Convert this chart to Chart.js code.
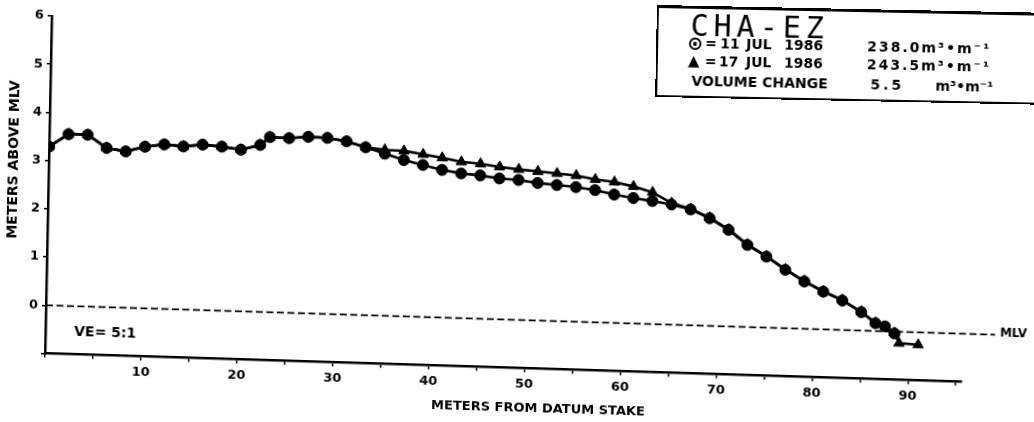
<!DOCTYPE html>
<html>
<head>
<meta charset="utf-8">
<title>CHA-EZ beach profile</title>
<script src="https://cdn.jsdelivr.net/npm/chart.js@4.4.1/dist/chart.umd.min.js"></script>
<style>
  html, body { margin: 0; padding: 0; background: #fff; overflow: hidden; }
  #wrap { position: relative; width: 1034px; height: 422px; overflow: hidden; }
  /* the scanned sheet sits slightly askew */
  #profile { position: absolute; left: 0; top: 0; transform-origin: 45px 354px; transform: matrix(1, 0.031, -0.02, 1, 0, 0); }
  #key { position: absolute; left: 657px; top: 5px; width: 400px; height: 87px;
         border-top: 3px solid #000; border-left: 2px solid #000; border-bottom: 2px solid #000;
         transform-origin: 0 0; transform: rotate(1.15deg);
         font-family: "DejaVu Sans", sans-serif; font-weight: bold; font-size: 14px; color: #000; }
  #key span { position: absolute; white-space: nowrap; line-height: 1; }
  #key .big { font-family: "DejaVu Sans Mono", monospace; font-weight: normal; font-size: 30px; letter-spacing: 5px; }
  #key .sym { font-size: 15px; }
  #key .ring { font-size: 19px; font-weight: bold; }
  #key .val { letter-spacing: 2px; }
</style>
</head>
<body>
<div id="wrap">
  <canvas id="profile" width="1034" height="422"></canvas>
  <div id="key">
    <span class="big" style="left:32px; top:2px;">CHA-EZ</span>
    <span class="ring" style="left:29px; top:25px;">⊙</span>
    <span style="left:47px; top:27px;">=</span>
    <span style="left:62px; top:27px;">11</span>
    <span style="left:88px; top:27px;">JUL</span>
    <span style="left:126px; top:27px;">1986</span>
    <span class="val" style="left:209px; top:27px;">238.0m³•m⁻¹</span>
    <span class="sym" style="left:30px; top:45px;">▲</span>
    <span style="left:47px; top:45px;">=</span>
    <span style="left:61px; top:45px;">17</span>
    <span style="left:88px; top:45px;">JUL</span>
    <span style="left:126px; top:45px;">1986</span>
    <span class="val" style="left:209px; top:45px;">243.5m³•m⁻¹</span>
    <span style="left:34px; top:65px;">VOLUME CHANGE</span>
    <span style="left:213px; top:65px; letter-spacing:3px;">5.5</span>
    <span style="left:278px; top:65px;">m³•m⁻¹</span>
  </div>
</div>
<script>
// survey of 11 JUL 1986 (circles)
const julyElevenX = [0, 2, 4, 6, 8, 10, 12, 14, 16, 18, 20, 22, 23, 25, 27, 29, 31, 33, 35, 37, 39, 41, 43, 45, 47, 49,
                     51, 53, 55, 57, 59, 61, 63, 65, 67, 69, 71, 73, 75, 77, 79, 81, 83, 85, 86.5, 87.5, 88.5];
const julyElevenY = [3.29, 3.56, 3.56, 3.30, 3.24, 3.35, 3.41, 3.38, 3.43, 3.40, 3.35, 3.46, 3.63, 3.62, 3.66, 3.65,
                     3.59, 3.48, 3.36, 3.24, 3.15, 3.06, 3.00, 2.97, 2.92, 2.90, 2.85, 2.82, 2.79, 2.74, 2.66, 2.60,
                     2.55, 2.49, 2.40, 2.23, 2.00, 1.70, 1.47, 1.21, 0.98, 0.78, 0.61, 0.38, 0.16, 0.10, -0.04];

// survey of 17 JUL 1986 (triangles)
const julySeventeenX = [0, 2, 4, 6, 8, 10, 12, 14, 16, 18, 20, 22, 23, 25, 27, 29, 31, 33, 35, 37, 39, 41, 43, 45, 47, 49,
                        51, 53, 55, 57, 59, 61, 63, 65, 67, 69, 71, 73, 75, 77, 79, 81, 83, 85, 86.5, 88.5, 89, 91];
const julySeventeenY = [3.29, 3.56, 3.56, 3.30, 3.24, 3.35, 3.41, 3.38, 3.43, 3.40, 3.35, 3.46, 3.63, 3.62, 3.66, 3.65,
                        3.59, 3.48, 3.44, 3.43, 3.37, 3.31, 3.24, 3.21, 3.16, 3.12, 3.09, 3.06, 3.03, 2.96, 2.92, 2.84,
                        2.73, 2.52, 2.41, 2.24, 2.01, 1.71, 1.48, 1.22, 0.99, 0.79, 0.62, 0.39, 0.17, -0.03, -0.24, -0.26];

// mean low water reference line
const mlvX = [0, 99];
const mlvY = [0, 0];

// axes
const xTicks = [0, 5, 10, 15, 20, 25, 30, 35, 40, 45, 50, 55, 60, 65, 70, 75, 80, 85, 90, 95];
const xTickValues = [10, 20, 30, 40, 50, 60, 70, 80, 90];
const xTickText = ['10', '20', '30', '40', '50', '60', '70', '80', '90'];
const yTicks = [-1, 0, 1, 2, 3, 4, 5, 6];
const yTickText = ['', '0', '1', '2', '3', '4', '5', '6'];

const FONT = '"DejaVu Sans", sans-serif';

function pairs(xs, ys) {
  return xs.map((x, i) => ({ x: x, y: ys[i] }));
}

const notes = {
  id: 'notes',
  afterDraw(chart) {
    const ctx = chart.ctx;
    const x = chart.scales.x;
    const y = chart.scales.y;
    const area = chart.chartArea;
    ctx.save();
    ctx.fillStyle = '#000';

    ctx.font = 'bold 14px ' + FONT;
    ctx.textAlign = 'left';
    ctx.textBaseline = 'middle';
    ctx.fillText('VE= 5:1', x.getPixelForValue(3), y.getPixelForValue(-0.55));

    ctx.font = 'bold 12px ' + FONT;
    ctx.textBaseline = 'alphabetic';
    ctx.fillText('MLV', x.getPixelForValue(99.5), y.getPixelForValue(0) + 2);

    // axis titles
    ctx.textAlign = 'center';
    ctx.textBaseline = 'middle';
    ctx.font = 'bold 13px ' + FONT;
    ctx.fillText('METERS FROM DATUM STAKE', x.getPixelForValue(51.5), area.bottom + 40);

    ctx.translate(10, y.getPixelForValue(3));
    ctx.rotate(-Math.PI / 2);
    ctx.font = 'bold 14px ' + FONT;
    ctx.fillText('METERS ABOVE MLV', 0, 0);
    ctx.restore();
  }
};

Chart.defaults.font.family = FONT;
Chart.defaults.color = '#000';

const ctx = document.getElementById('profile').getContext('2d');
new Chart(ctx, {
  type: 'line',
  data: {
    datasets: [{
      label: '11 JUL 1986',
      data: pairs(julyElevenX, julyElevenY),
      borderColor: '#000',
      backgroundColor: '#000',
      borderWidth: 2.6,
      pointStyle: 'circle',
      pointRadius: 5.5,
      pointBorderWidth: 1,
      tension: 0
    }, {
      label: '17 JUL 1986',
      data: pairs(julySeventeenX, julySeventeenY),
      borderColor: '#000',
      backgroundColor: '#000',
      borderWidth: 2.6,
      pointStyle: 'triangle',
      pointRadius: 6,
      pointBorderWidth: 1,
      tension: 0
    }, {
      label: 'MLV',
      data: pairs(mlvX, mlvY),
      borderColor: '#000',
      borderWidth: 1.8,
      borderDash: [7, 3.5],
      pointRadius: 0,
      clip: false
    }]
  },
  options: {
    responsive: false,
    animation: false,
    events: [],
    layout: { padding: { top: 16, right: 72, left: 0, bottom: 0 } },
    plugins: {
      legend: { display: false },
      tooltip: { enabled: false }
    },
    scales: {
      x: {
        type: 'linear',
        min: 0,
        max: 95.6,
        afterFit: (s) => { s.height = 68.5; },
        afterBuildTicks: (s) => { s.ticks = xTicks.map(v => ({ value: v })); },
        ticks: {
          autoSkip: false,
          maxRotation: 0,
          padding: 4,
          font: { size: 13, weight: 'bold' },
          callback: (v) => {
            const i = xTickValues.indexOf(v);
            return i >= 0 ? xTickText[i] : '';
          }
        },
        grid: { drawOnChartArea: false, tickLength: 4, color: '#000', lineWidth: 1.5 },
        border: { color: '#000', width: 2.5 }
      },
      y: {
        type: 'linear',
        min: -1,
        max: 6,
        afterFit: (s) => { s.width = 45; },
        afterBuildTicks: (s) => { s.ticks = yTicks.map(v => ({ value: v })); },
        ticks: {
          padding: 4,
          font: { size: 13, weight: 'bold' },
          callback: (v) => {
            const i = yTicks.indexOf(v);
            return i >= 0 ? yTickText[i] : '';
          }
        },
        grid: { drawOnChartArea: false, tickLength: 4, color: '#000', lineWidth: 1.5 },
        border: { color: '#000', width: 2.5 }
      }
    }
  },
  plugins: [notes]
});
</script>
</body>
</html>
